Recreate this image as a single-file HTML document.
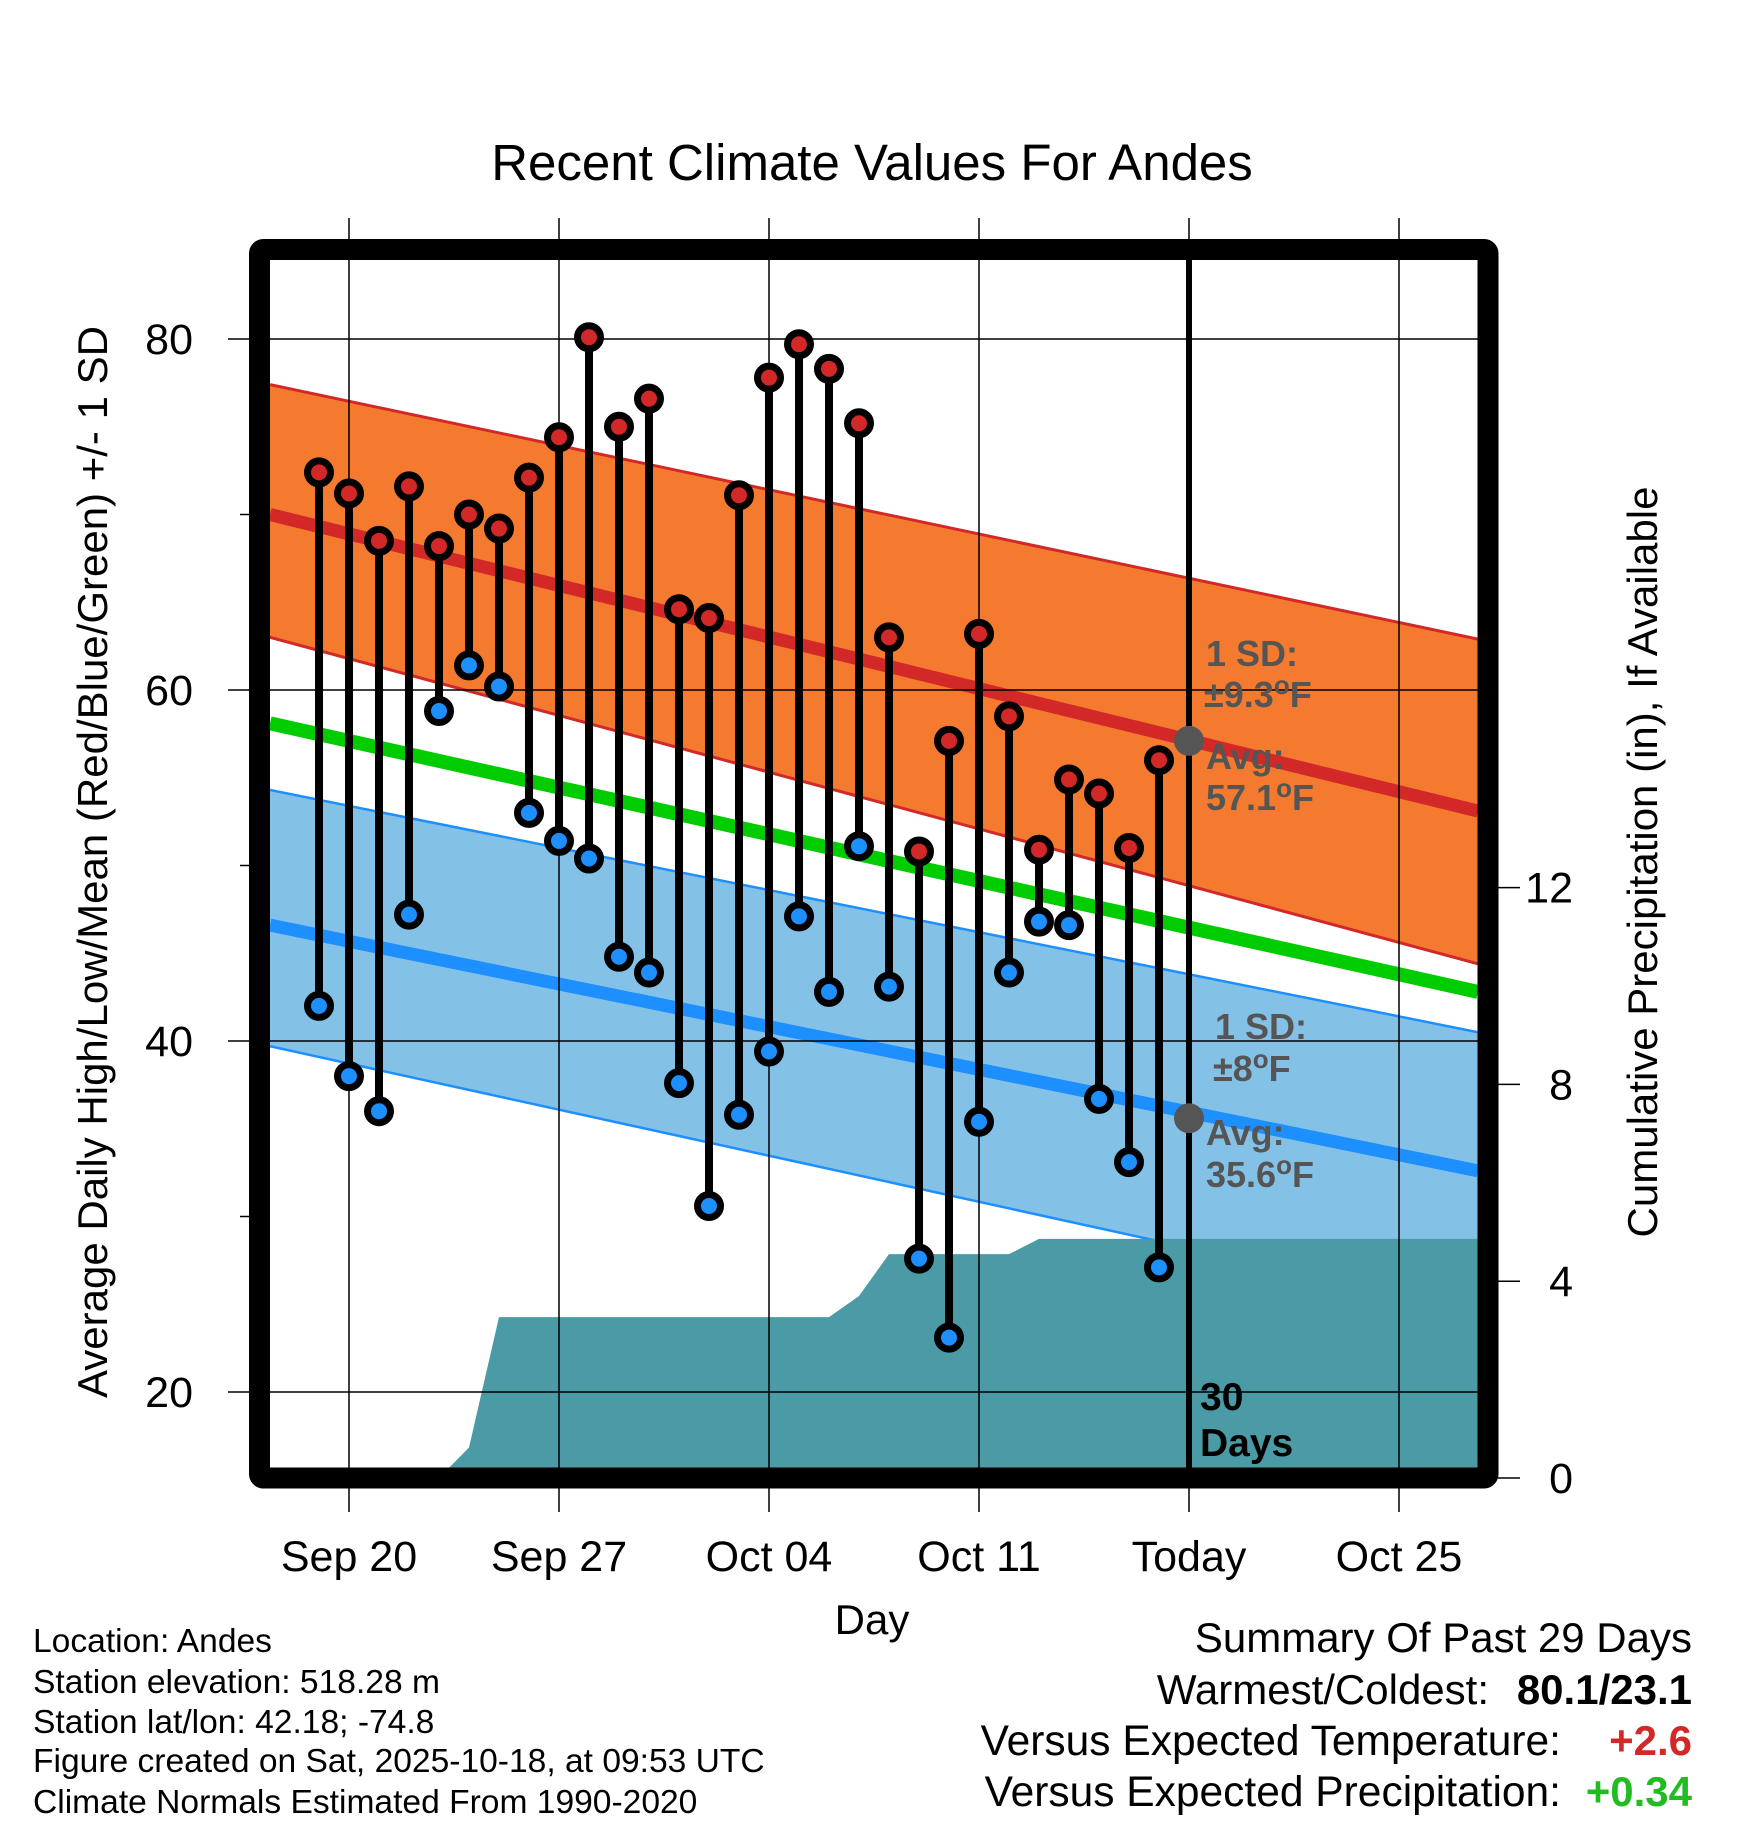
<!DOCTYPE html>
<html><head><meta charset="utf-8"><style>
html,body{margin:0;padding:0;background:#fff;}
svg{display:block;font-family:"Liberation Sans",Arial,sans-serif;}
</style></head><body>
<svg id="chart" width="1748" height="1828" viewBox="0 0 1748 1828" xmlns="http://www.w3.org/2000/svg"></svg>
<script>
// ---- data ----
const dayOffsets = [-1,0,1,2,3,4,5,6,7,8,9,10,11,12,13,14,15,16,17,18,19,20,21,22,23,24,25,26,27];
const highs = [72.4,71.2,68.5,71.6,68.2,70.0,69.2,72.1,74.4,80.1,75.0,76.6,64.6,64.1,71.1,77.8,79.7,78.3,75.2,63.0,50.8,57.1,63.2,58.5,50.9,54.9,54.1,51.0,56.0];
const lows  = [42.0,38.0,36.0,47.2,58.8,61.4,60.2,53.0,51.4,50.4,44.8,43.9,37.6,30.6,35.8,39.4,47.1,42.8,51.1,43.1,27.6,23.1,35.4,43.9,46.8,46.6,36.7,33.1,27.1];
const precip = [0,0,0,0,0,0.62,3.27,3.27,3.27,3.27,3.27,3.27,3.27,3.27,3.27,3.27,3.27,3.27,3.7,4.55,4.55,4.55,4.55,4.55,4.86,4.86,4.86,4.86,4.86];
const tickLabels = ["Sep 20","Sep 27","Oct 04","Oct 11","Today","Oct 25"];
const tickDays = [0,7,14,21,28,35];
const yTicks = [20,40,60,80];
const yMinor = [30,50,70];
const pTicks = [0,4,8,12];
const redUpper = [77.4,62.9], redMean=[70.0,53.1], redLower=[63.0,44.4];
const greenMean = [58.1,42.8];
const blueUpper = [54.3,40.5], blueMean=[46.6,32.6], blueLower=[39.7,24.6];

// ---- scales ----
const X0=349, PXD=30;
const x = d => X0 + d*PXD;
const Y80=339, PXF=17.55;
const y = v => Y80 + (80-v)*PXF;
const Y0P=1478, PXI=49.2;
const yp = p => Y0P - p*PXI;
const inL=270, inR=1478, inT=260, inB=1468;
const dL=(inL-X0)/PXD, dR=(inR-X0)/PXD;

const NS="http://www.w3.org/2000/svg";
const svg=document.getElementById('chart');
function mk(tag, attrs, parent){const e=document.createElementNS(NS,tag);for(const k in attrs)e.setAttribute(k,attrs[k]);(parent||svg).appendChild(e);return e;}
function txt(s, attrs, parent){const e=mk('text',attrs,parent);e.textContent=s;return e;}
const lin=(arr,d)=>arr[0]+(arr[1]-arr[0])*(d-dL)/(dR-dL);

const defs=mk('defs',{});
const cp=mk('clipPath',{id:'plotclip'},defs);
mk('rect',{x:inL,y:inT,width:inR-inL,height:inB-inT},cp);
const g=mk('g',{'clip-path':'url(#plotclip)'});

function band(up,lo,fill,name){
  const p=mk('polygon',{points:`${inL},${y(lin(up,dL))} ${inR},${y(lin(up,dR))} ${inR},${y(lin(lo,dR))} ${inL},${y(lin(lo,dL))}`,fill:fill},g);
  
  
}
band(redUpper,redLower,'#f47a30','high-sd-band');
band(blueUpper,blueLower,'#84c1e6','low-sd-band');
function line(arr,color,w,name){
  const l=mk('line',{x1:inL,y1:y(lin(arr,dL)),x2:inR,y2:y(lin(arr,dR)),stroke:color,'stroke-width':w},g);
  
  
}
line(redUpper,'#d22828',3,'high-upper-sd-line');
line(redLower,'#d22828',3,'high-lower-sd-line');
line(blueUpper,'#1e8fff',2.5,'low-upper-sd-line');
line(blueLower,'#1e8fff',2.5,'low-lower-sd-line');
line(redMean,'#d22828',13,'high-mean-line');
line(greenMean,'#00cc00',14,'mean-line');
line(blueMean,'#1e8fff',13,'low-mean-line');

let pts=`${inL},${yp(0)} `;
for(let i=0;i<dayOffsets.length;i++) pts+=`${x(dayOffsets[i])},${yp(precip[i])} `;
pts+=`${inR},${yp(precip[precip.length-1])} ${inR},${yp(0)}`;
const pa=mk('polygon',{points:pts,fill:'#4a9ba5'},g);



for(const v of yTicks){mk('line',{x1:228,y1:y(v),x2:inR,y2:y(v),stroke:'#000','stroke-width':1.5});}
for(const v of yMinor){mk('line',{x1:240,y1:y(v),x2:250,y2:y(v),stroke:'#000','stroke-width':1.5});}
tickDays.forEach((d,i)=>{
  const l=mk('line',{x1:x(d),y1:218,x2:x(d),y2:1512,stroke:'#000','stroke-width':1.5});
  
  
  if(tickLabels[i]==='Today'){
    const tl=mk('line',{x1:x(d),y1:inT,x2:x(d),y2:inB,stroke:'#000','stroke-width':6});
    
    
  }
  const t=txt(tickLabels[i],{x:x(d),y:1571,'font-size':43,'text-anchor':'middle'});
  
  
});
for(const v of yTicks){
  const t=txt(String(v),{x:193,y:y(v)+15,'font-size':43,'text-anchor':'end'});
  
  
}
for(const p of pTicks){
  mk('line',{x1:1498,y1:yp(p),x2:1520,y2:yp(p),stroke:'#000','stroke-width':1.5});
  const t=txt(String(p),{x:1573,y:yp(p)+15,'font-size':43,'text-anchor':'end'});
  
  
}

for(let i=0;i<dayOffsets.length;i++){
  const cx=x(dayOffsets[i]);
  const s=mk('line',{x1:cx,y1:y(highs[i]),x2:cx,y2:y(lows[i]),stroke:'#000','stroke-width':8});
  
  
}
for(let i=0;i<dayOffsets.length;i++){
  const cx=x(dayOffsets[i]);
  const h=mk('circle',{cx:cx,cy:y(highs[i]),r:11.5,fill:'#d22828',stroke:'#000','stroke-width':7});
  
  
  const l=mk('circle',{cx:cx,cy:y(lows[i]),r:11.5,fill:'#1e8fff',stroke:'#000','stroke-width':7});
  
  
}
mk('circle',{cx:x(28),cy:y(57.1),r:15,fill:'#555'});
mk('circle',{cx:x(28),cy:y(35.6),r:15,fill:'#555'});

const fr=mk('rect',{x:259.5,y:249.5,width:1228.5,height:1228.5,fill:'none',stroke:'#000','stroke-width':21,'stroke-linejoin':'round',rx:4});


</script>
<script>
(function(){
const svg=document.getElementById('chart');
const NS="http://www.w3.org/2000/svg";
function t(s,a,name){const e=document.createElementNS(NS,'text');for(const k in a)e.setAttribute(k,a[k]);e.innerHTML=s;svg.appendChild(e);

return e;}
const gb={fill:'#555','font-weight':'bold','font-size':36};
const deg='<tspan dy="-13" font-size="26">o</tspan><tspan dy="13">F</tspan>';
t('1 SD:',Object.assign({x:1206,y:666},gb),'high-sd-label');
t('±9.3'+deg,Object.assign({x:1204,y:707},gb),'high-sd-value');
t('Avg:',Object.assign({x:1206,y:769},gb),'high-avg-label');
t('57.1'+deg,Object.assign({x:1206,y:810},gb),'high-avg-value');
t('1 SD:',Object.assign({x:1215,y:1039},gb),'low-sd-label');
t('±8'+deg,Object.assign({x:1213,y:1081},gb),'low-sd-value');
t('Avg:',Object.assign({x:1206,y:1145},gb),'low-avg-label');
t('35.6'+deg,Object.assign({x:1206,y:1187},gb),'low-avg-value');
t('30',{x:1200,y:1410,'font-size':39,'font-weight':'bold'},'days-count');
t('Days',{x:1200,y:1456,'font-size':39,'font-weight':'bold'},'days-label');
t('Recent Climate Values For Andes',{x:872,y:180,'font-size':51,'text-anchor':'middle'},'chart-title');
t('Day',{x:872,y:1634,'font-size':42,'text-anchor':'middle'},'x-axis-title');
t('Average Daily High/Low/Mean (Red/Blue/Green) +/- 1 SD',{x:0,y:0,'font-size':42,'text-anchor':'middle',transform:'translate(107,862) rotate(-90)'},'y-axis-title');
t('Cumulative Precipitation (in), If Available',{x:0,y:0,'font-size':42,'text-anchor':'middle',transform:'translate(1657,862) rotate(-90)'},'precip-axis-title');
const foot=['Location: Andes','Station elevation: 518.28 m','Station lat/lon: 42.18; -74.8','Figure created on Sat, 2025-10-18, at 09:53 UTC','Climate Normals Estimated From 1990-2020'];
const fy=[1652,1693,1733,1772,1813];
foot.forEach((s,i)=>t(s,{x:33,y:fy[i],'font-size':33.6},'footer-info-line'));
t('Summary Of Past 29 Days',{x:1692,y:1652,'font-size':42,'text-anchor':'end'},'summary-title');
t('Warmest/Coldest:',{x:1489,y:1704,'font-size':42,'text-anchor':'end'},'warmest-coldest-label');
t('80.1/23.1',{x:1692,y:1704,'font-size':42,'text-anchor':'end','font-weight':'bold'},'warmest-coldest-value');
t('Versus Expected Temperature:',{x:1561,y:1755,'font-size':42.5,'text-anchor':'end'},'temp-anomaly-label');
t('+2.6',{x:1692,y:1755,'font-size':42,'text-anchor':'end','font-weight':'bold',fill:'#d22828'},'temp-anomaly-value');
t('Versus Expected Precipitation:',{x:1561,y:1806,'font-size':42.5,'text-anchor':'end'},'precip-anomaly-label');
t('+0.34',{x:1692,y:1806,'font-size':42,'text-anchor':'end','font-weight':'bold',fill:'#22bb22'},'precip-anomaly-value');
})();
</script>
</body></html>
